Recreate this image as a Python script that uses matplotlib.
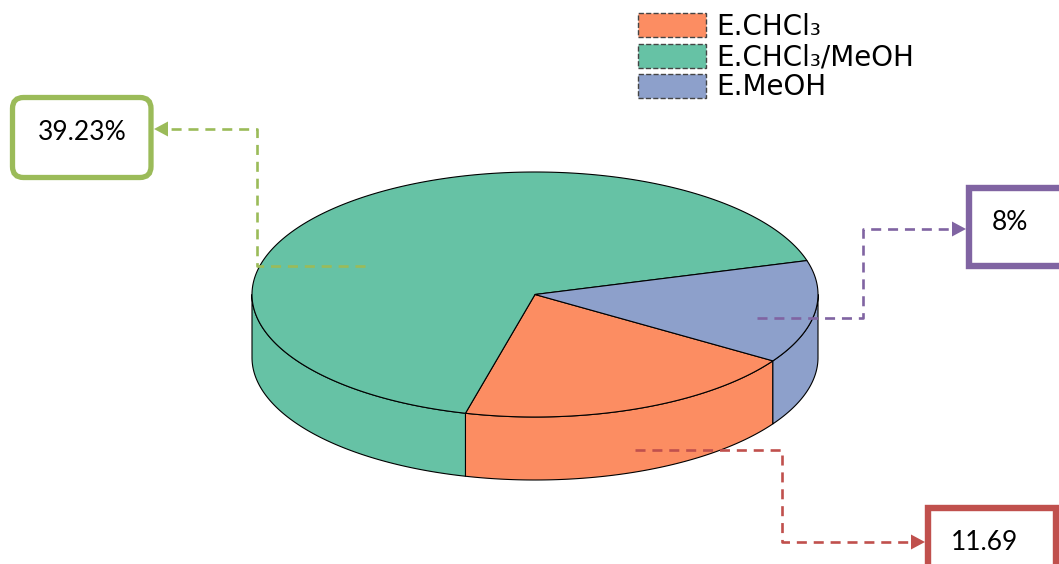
import numpy as np
import matplotlib
matplotlib.use("Agg")
import matplotlib.pyplot as plt
from matplotlib.patches import Polygon, Patch, FancyBboxPatch, Rectangle

# data
labels = ["E.CHCl\u2083", "E.CHCl\u2083/MeOH", "E.MeOH"]
values = [11.69, 39.23, 8.0]
value_text = ["11.69", "39.23%", "8%"]
colors = ["#FC8D62", "#66C2A5", "#8DA0CB"]
box_colors = ["#C0504D", "#9BBB59", "#8064A2"]

W, H = 1059, 564
fig = plt.figure(figsize=(W / 100, H / 100), dpi=100)
ax = fig.add_axes([0, 0, 1, 1])
ax.set_xlim(0, W)
ax.set_ylim(H, 0)
ax.axis("off")

# pie geometry (pixel space, y down), slices go clockwise
cx, cy, rx, ry, depth = 535, 294.5, 283, 122.5, 63
start = -32.8


def pt(t, dy=0.0):
    r = np.radians(t)
    return np.column_stack([cx + rx * np.cos(r), cy - ry * np.sin(r) + dy])


fracs = np.array(values) / sum(values)
bounds = start - 360 * np.concatenate([[0], np.cumsum(fracs)])
edge_kw = dict(edgecolor="black", linewidth=0.8, joinstyle="round")

# side walls on the front half
for i, c in enumerate(colors):
    a, b = bounds[i + 1], bounds[i]
    for k in (-360, 0, 360):
        lo, hi = max(a + k, -180), min(b + k, 0)
        if hi <= lo:
            continue
        t = np.linspace(lo, hi, 120)
        poly = np.vstack([pt(t), pt(t[::-1], depth)])
        ax.add_patch(Polygon(poly, closed=True, facecolor=c, zorder=1, **edge_kw))

# top faces
for i, c in enumerate(colors):
    t = np.linspace(bounds[i + 1], bounds[i], 300)
    poly = np.vstack([[cx, cy], pt(t)])
    ax.add_patch(Polygon(poly, closed=True, facecolor=c, zorder=2, **edge_kw))

# leader lines + value boxes
leaders = [
    [(635, 450), (782, 450), (782, 542), (925, 542)],
    [(365, 266), (257, 266), (257, 129), (154, 129)],
    [(757, 318), (863, 318), (863, 229), (966, 229)],
]
boxes = [(928, 508, 128, 80), (12.5, 97.5, 138.5, 80), (969, 188, 110, 78)]
text_pos = [(985, 542), (82, 133), (1010, 222)]

label_font = ["Lato", "DejaVu Sans"]
for i in range(3):
    col = box_colors[i]
    pts = np.array(leaders[i], dtype=float)
    d = np.sign(pts[-1, 0] - pts[-2, 0])
    ax.plot(pts[:-1, 0].tolist() + [pts[-1, 0] - 12 * d],
            pts[:-1, 1].tolist() + [pts[-1, 1]],
            color=col, lw=1.9, ls=(0, (3.8, 2.6)), zorder=3)
    tip = pts[-1]
    head = [(tip[0], tip[1]), (tip[0] - 14 * d, tip[1] - 7.5), (tip[0] - 14 * d, tip[1] + 7.5)]
    ax.add_patch(Polygon(head, closed=True, facecolor=col, edgecolor="none", zorder=4))

    x0, y0, bw, bh = boxes[i]
    if i == 1:
        ax.add_patch(FancyBboxPatch((x0 + 11, y0 + 11), bw - 22, bh - 22,
                                    boxstyle="round,pad=11", facecolor="white",
                                    edgecolor=col, lw=3.8, zorder=4))
    else:
        ax.add_patch(Rectangle((x0, y0), bw, bh, facecolor="white",
                               edgecolor=col, lw=4.6, zorder=4))
    ax.text(*text_pos[i], value_text[i], ha="center", va="center",
            fontsize=19, family=label_font, color="black", zorder=5)

# legend
handles = [Patch(facecolor=c, edgecolor="#444444", linestyle="--", linewidth=1.0)
           for c in colors]
leg = ax.legend(handles, labels, loc="upper left",
                bbox_to_anchor=(638 / W, 1 - 13 / H), frameon=False,
                borderpad=0, borderaxespad=0, handlelength=2.45,
                handleheight=0.95, handletextpad=0.35, labelspacing=0.08,
                prop={"family": ["DejaVu Sans"], "size": 20})

fig.savefig("out.png", dpi=100)
